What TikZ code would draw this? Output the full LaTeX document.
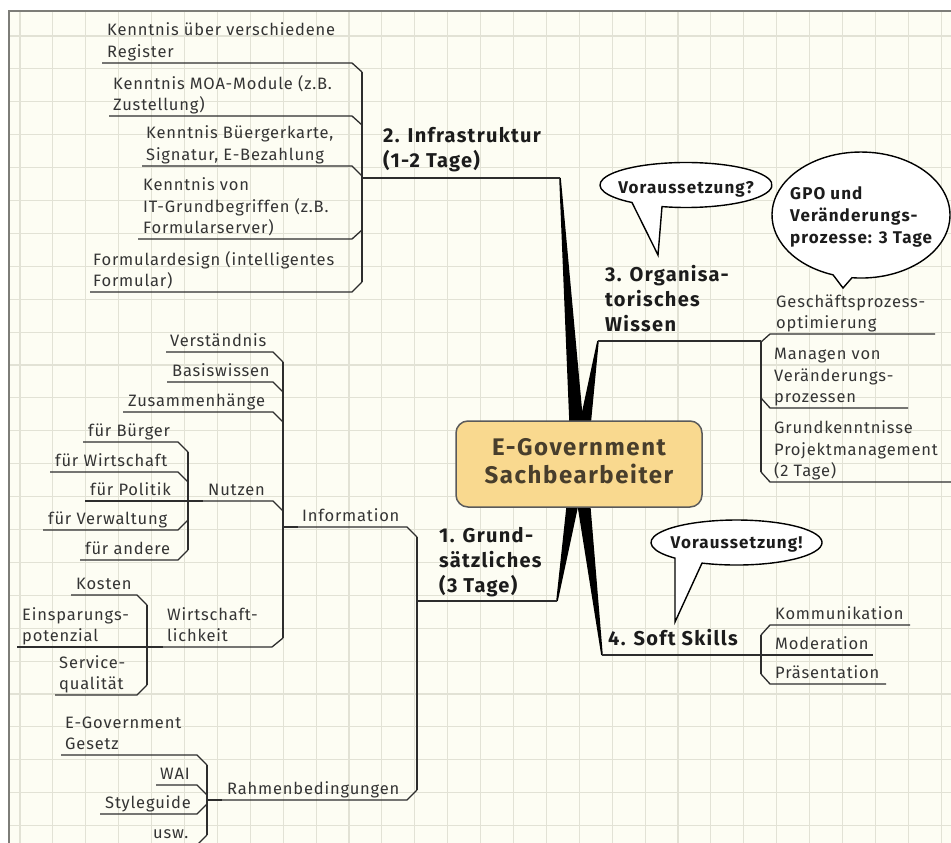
\documentclass[tikz,border=0pt]{standalone}
\usepackage{fontspec}
\setmainfont{Fira Sans}
\newfontfamily\leaffam[LetterSpace=5]{Fira Sans}
\newfontfamily\boldfam[LetterSpace=6.5]{Fira Sans}
\usetikzlibrary{calc}

\definecolor{paper}{RGB}{253,253,243}
\definecolor{gridcol}{RGB}{226,226,213}
\definecolor{framecol}{RGB}{125,125,120}
\definecolor{leafcol}{RGB}{52,52,52}
\definecolor{branchcol}{RGB}{28,28,28}
\definecolor{linecol}{RGB}{45,45,45}
\definecolor{hubfill}{RGB}{249,217,143}
\definecolor{hubdraw}{RGB}{90,90,90}
\definecolor{hubtext}{RGB}{72,62,44}

\newcommand\leaffont{\leaffam\fontsize{16.5}{21.5}\selectfont}
\newcommand\branchfont{\boldfam\fontsize{20}{25}\selectfont\bfseries}
\newcommand\bubblefont{\boldfam\fontsize{17}{22}\selectfont\bfseries}
\newcommand\hubfont{\boldfam\fontsize{24}{26.5}\selectfont\bfseries}
\newcommand\ml[1]{\begin{tabular}[t]{@{}l@{}}#1\end{tabular}}

% underline of a leaf left of its bracket: left end, right end, height, bracket point
\newcommand\ulL[5]{\draw[link] (#1,#3) -- (#2,#3) -- (#4,#5);}
% underline of a leaf right of its bracket
\newcommand\ulR[5]{\draw[link] (#4,#5) -- (#1,#3) -- (#2,#3);}

\tikzset{
  leaf/.style={anchor=base west, inner sep=0pt, text=leafcol, font=\leaffont},
  branch/.style={anchor=base west, inner sep=0pt, text=branchcol, font=\branchfont},
  link/.style={draw=linecol, line width=1.3pt},
  joint/.style={draw=linecol, line width=2.6pt},
  spoke/.style={fill=black},
  bubble/.style={fill=white, draw=black, line width=1.4pt, line join=miter},
  bubbletext/.style={inner sep=0pt, text=branchcol, font=\bubblefont},
  gridline/.style={draw=gridcol, line width=1.1pt},
}

\begin{document}
\begin{tikzpicture}[x=1pt,y=-1pt]
\useasboundingbox (0,0) rectangle (951,843);
\clip (0,0) rectangle (951,843);

% paper with grid
\fill[white] (0,0) rectangle (951,843);
\fill[paper] (9,11) rectangle (951,843);
\foreach \i in {0,...,28} \draw[gridline] ({20+32.9*\i},11) -- ({20+32.9*\i},843);
\foreach \j in {0,...,24} \draw[gridline] (9,{36+32.9*\j}) -- (951,{36+32.9*\j});
\draw[framecol, line width=1.4pt] (9,843) -- (9,11) -- (951,11);

% tapered spokes from the central topic
\coordinate (hub) at (579,464);
\coordinate (e2) at (560,178);
\coordinate (e3) at (598,341);
\coordinate (e1) at (557,601);
\coordinate (e4) at (602,655);
\foreach \e in {e1,e2,e3,e4}
  \fill[spoke] ($(hub)!8pt!90:(\e)$) -- ($(\e)!0.8pt!-90:(hub)$) -- ($(\e)!0.8pt!90:(hub)$) -- ($(hub)!8pt!-90:(\e)$) -- cycle;

% central topic
\node[draw=hubdraw, fill=hubfill, line width=1.5pt, rounded corners=12pt,
      minimum width=246pt, minimum height=86pt, inner sep=0pt,
      text=hubtext, font=\hubfont] (ctr) at (hub)
  {\begin{tabular}{@{}c@{}}E-Government\\Sachbearbeiter\end{tabular}};

% ---------- 2. Infrastruktur ----------
\node[branch] (infra) at (383,142) {\ml{2. Infrastruktur\\(1-2 Tage)}};
\node[leaf] (i1) at (107,36)  {\ml{Kenntnis über verschiedene\\Register}};
\node[leaf] (i2) at (113,89)  {\ml{Kenntnis MOA-Module (z.B.\\Zustellung)}};
\node[leaf] (i3) at (146,139) {\ml{Kenntnis Büergerkarte,\\Signatur, E-Bezahlung}};
\node[leaf] (i4) at (143,190.5) {\ml{Kenntnis von\\IT-Grundbegriffen (z.B.\\Formularserver)}};
\node[leaf] (i5) at (93,265)  {\ml{Formulardesign (intelligentes\\Formular)}};
\coordinate (iT) at (362,72);
\coordinate (iB) at (362,282);
\ulL{102}{352}{63}{362}{72}
\ulL{109}{352}{116}{362}{125}
\ulL{142}{352}{166}{362}{176}
\ulL{138}{352}{239}{362}{230}
\ulL{90}{352}{292}{362}{282}
\draw[link] (iT) -- (iB);
\draw[link] (362,178) -- (e2);
\draw[joint] (362,178) -- (377,178);

% ---------- 3. Organisatorisches Wissen ----------
\node[branch] (orga) at (605,281) {\ml{3. Organisa-\\torisches\\Wissen}};
\node[leaf] (o1) at (776,307)   {\ml{Geschäftsprozess-\\optimierung}};
\node[leaf] (o2) at (774,359.5) {\ml{Managen von\\Veränderungs-\\prozessen}};
\node[leaf] (o3) at (774,433.5) {\ml{Grundkenntnisse\\Projektmanagement\\(2 Tage)}};
\coordinate (oT) at (761,342);
\coordinate (oB) at (761,472);
\ulR{770}{935}{334}{761}{342}
\ulR{770}{908}{408}{761}{398}
\ulR{770}{960}{482}{761}{472}
\draw[link] (oT) -- (oB);
\draw[link] (e3) -- (761,341);
\draw[joint] (743,341) -- (761,341);

% ---------- 1. Grundsätzliches ----------
\node[branch] (grund) at (439,542) {\ml{1. Grund-\\sätzliches\\(3 Tage)}};
\node[leaf] (info)   at (302,521.5) {Information};
\node[leaf] (rahmen) at (227,794.5) {Rahmenbedingungen};
\coordinate (gT) at (417,537);
\coordinate (gB) at (417,790);
\ulL{283}{407}{527}{417}{537}
\ulL{207}{407}{800}{417}{790}
\draw[link] (gT) -- (gB);
\draw[link] (417,601) -- (e1);
\draw[joint] (417,601) -- (433,601);

% Information
\node[leaf] (f1) at (170,346.5) {Verständnis};
\node[leaf] (f2) at (172,376.5) {Basiswissen};
\node[leaf] (f3) at (128,406.5) {Zusammenhänge};
\node[leaf] (nutzen) at (208,495.5) {Nutzen};
\node[leaf] (wirt) at (167,620) {\ml{Wirtschaft-\\lichkeit}};
\coordinate (fT) at (283,362);
\coordinate (fB) at (283,638);
\ulL{166}{273}{352}{283}{362}
\ulL{167}{273}{382}{283}{392}
\ulL{123}{273}{412}{283}{422}
\ulL{188}{273}{501}{283}{511}
\ulL{147}{272}{647}{283}{638}
\draw[link] (fT) -- (fB);
\draw[joint] (283,527) -- (298,527);

% Nutzen
\node[leaf] (n1) at (88,436.5) {für Bürger};
\node[leaf] (n2) at (55,466.5) {für Wirtschaft};
\node[leaf] (n3) at (90,495.5) {für Politik};
\node[leaf] (n4) at (48,524.5) {für Verwaltung};
\node[leaf] (n5) at (85,554.5) {für andere};
\coordinate (nT) at (188,452);
\coordinate (nB) at (188,550);
\ulL{83}{178}{442}{188}{452}
\ulL{50}{178}{472}{188}{482}
\draw[link] (85,501) -- (188,501);
\ulL{43}{178}{530}{188}{520}
\ulL{80}{178}{560}{188}{550}
\draw[link] (nT) -- (nB);
\draw[joint] (188,501) -- (203,501);

% Wirtschaftlichkeit
\node[leaf] (w1) at (76,589.5) {Kosten};
\node[leaf] (w2) at (22,620)   {\ml{Einsparungs-\\potenzial}};
\node[leaf] (w3) at (59,668)   {\ml{Service-\\qualität}};
\coordinate (wT) at (147,605);
\coordinate (wB) at (147,685);
\ulL{71}{137}{595}{147}{605}
\draw[link] (17,647) -- (147,647);
\ulL{55}{137}{695}{147}{685}
\draw[link] (wT) -- (wB);
\draw[joint] (147,647) -- (163,647);

% Rahmenbedingungen
\node[leaf] (r1) at (65,728)    {\ml{E-Government\\Gesetz}};
\node[leaf] (r2) at (160,779.5) {WAI};
\node[leaf] (r3) at (105,808.5) {Styleguide};
\node[leaf] (r4) at (153,838)   {usw.};
\coordinate (rT) at (207,765);
\coordinate (rB) at (207,835);
\ulL{61}{197}{755}{207}{765}
\ulL{156}{197}{785}{207}{795}
\ulL{100}{197}{814}{207}{804}
\ulL{150}{197}{845}{207}{835}
\draw[link] (rT) -- (rB);
\draw[joint] (207,800) -- (222,800);

% ---------- 4. Soft Skills ----------
\node[branch] (soft) at (608,645) {4. Soft Skills};
\node[leaf] (s1) at (775,619.5) {Kommunikation};
\node[leaf] (s2) at (775,649.5) {Moderation};
\node[leaf] (s3) at (775,678.5) {Präsentation};
\coordinate (sT) at (761,635);
\coordinate (sB) at (761,674);
\ulR{770}{910}{625}{761}{635}
\draw[link] (761,655) -- (873,655);
\ulR{770}{886}{684}{761}{674}
\draw[link] (sT) -- (sB);
\draw[link] (e4) -- (761,655);
\draw[joint] (745,655) -- (761,655);

% ---------- callouts ----------
\draw[bubble] (662,206.6) arc[start angle=106.2, end angle=-231.1, x radius=86, y radius=22.5]
  -- (658,255) -- cycle;
\node[bubbletext, anchor=base] (q1) at (686,193) {Voraussetzung?};

\draw[bubble] (852,277.7) arc[start angle=95.8, end angle=-251.7, x radius=89, y radius=63]
  -- (843,288) -- cycle;
\node[bubbletext, anchor=base west] (q2) at (790,199)
  {\begin{tabular}[t]{@{}l@{}}GPO und\\Veränderungs-\\prozesse: 3 Tage\end{tabular}};

\draw[bubble] (702,563.1) arc[start angle=113.8, end angle=-224.0, x radius=85.5, y radius=22.5]
  -- (675,622) -- cycle;
\node[bubbletext, anchor=base] (q3) at (736.5,548) {Voraussetzung!};
\end{tikzpicture}
\end{document}
